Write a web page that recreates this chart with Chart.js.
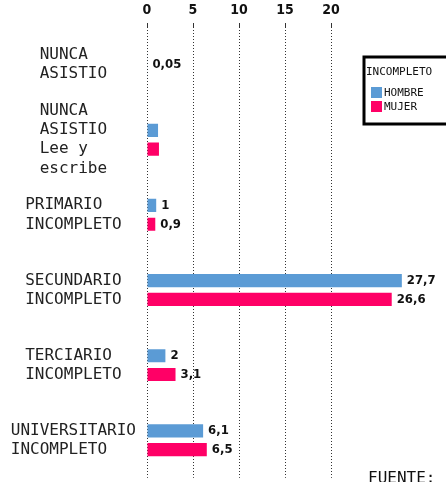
<!DOCTYPE html>
<html>
<head>
<meta charset="utf-8">
<script src="https://cdn.jsdelivr.net/npm/chart.js@4/dist/chart.umd.min.js"></script>
<style>
  html, body { margin: 0; padding: 0; background: #fff; overflow: hidden; }
  #wrap { width: 446px; height: 482px; overflow: hidden; }
  canvas { display: block; }
</style>
</head>
<body>
<div id="wrap"><canvas id="c" width="446" height="500"></canvas></div>
<script>
const categories = [
  ["NUNCA", "ASISTIO"],
  ["NUNCA", "ASISTIO", "Lee y", "escribe"],
  ["PRIMARIO", "INCOMPLETO"],
  ["SECUNDARIO", "INCOMPLETO"],
  ["TERCIARIO", "INCOMPLETO"],
  ["UNIVERSITARIO", "INCOMPLETO"]
];
const hombre = [0.05, 1.2, 1, 27.7, 2, 6.1];
const mujer  = [null, 1.3, 0.9, 26.6, 3.1, 6.5];
const hombreLabels = ["0,05", null, "1", "27,7", "2", "6,1"];
const mujerLabels  = [null, null, "0,9", "26,6", "3,1", "6,5"];
const tickValues = [0, 5, 10, 15, 20];
const legendTitle = "INCOMPLETO";
const sourceText = "FUENTE:";

const MONO = "'DejaVu Sans Mono', 'Liberation Mono', monospace";
const NARROW = "'DejaVu Sans Condensed', 'Liberation Sans Narrow', 'Roboto Condensed', sans-serif";

const valueLabels = {
  id: 'valueLabels',
  afterDatasetsDraw(chart) {
    const ctx = chart.ctx;
    const lists = [hombreLabels, mujerLabels];
    ctx.save();
    ctx.font = "bold 13px " + NARROW;
    ctx.fillStyle = '#111';
    ctx.textBaseline = 'middle';
    ctx.textAlign = 'left';
    chart.data.datasets.forEach((ds, di) => {
      const meta = chart.getDatasetMeta(di);
      meta.data.forEach((el, i) => {
        const t = lists[di][i];
        if (t == null || ds.data[i] == null) return;
        ctx.fillText(t, el.x + 5, el.y);
      });
    });
    ctx.restore();
  }
};

const boxLegend = {
  id: 'boxLegend',
  afterDraw(chart) {
    const ctx = chart.ctx;
    ctx.save();
    const x = 364, y = 57, w = 86, h = 67;
    ctx.fillStyle = '#fff';
    ctx.fillRect(x, y, w, h);
    ctx.lineWidth = 3;
    ctx.strokeStyle = '#000';
    ctx.strokeRect(x, y, w, h);
    ctx.fillStyle = '#111';
    ctx.font = "11px " + MONO;
    ctx.textBaseline = 'middle';
    ctx.textAlign = 'left';
    ctx.fillText(legendTitle, x + 2, y + 15);
    chart.data.datasets.forEach((ds, i) => {
      const yy = y + 36 + i * 14;
      ctx.fillStyle = ds.backgroundColor;
      ctx.fillRect(x + 7, yy - 6, 11, 11);
      ctx.fillStyle = '#111';
      ctx.fillText(ds.label, x + 20, yy);
    });
    ctx.font = "16px " + MONO;
    ctx.textBaseline = 'top';
    ctx.fillText(sourceText, 368, 471);
    ctx.restore();
  }
};

new Chart(document.getElementById('c'), {
  type: 'bar',
  data: {
    labels: categories,
    datasets: [
      { label: 'HOMBRE', data: hombre, backgroundColor: '#5B9BD5' },
      { label: 'MUJER', data: mujer, backgroundColor: '#FF0066' }
    ]
  },
  options: {
    indexAxis: 'y',
    responsive: false,
    animation: false,
    skipNull: true,
    categoryPercentage: 0.5,
    barPercentage: 0.7,
    layout: { padding: 0 },
    plugins: {
      legend: { display: false },
      tooltip: { enabled: false }
    },
    scales: {
      x: {
        position: 'top',
        min: 0,
        max: 32.5,
        afterBuildTicks(scale) { scale.ticks = tickValues.map(v => ({ value: v })); },
        afterFit(scale) { scale.height = 27; },
        grid: { color: '#333', lineWidth: 1, tickLength: 4 },
        border: { display: false, dash: [1, 2] },
        ticks: {
          padding: 4,
          color: '#111',
          font: { family: NARROW, size: 14, weight: 'bold' }
        }
      },
      y: {
        grid: { display: false },
        border: { display: false },
        afterFit(scale) { scale.width = 147; },
        ticks: {
          autoSkip: false,
          crossAlign: 'center',
          color: '#222',
          padding: 3,
          font: { family: MONO, size: 16, lineHeight: 1.2 },
          callback(value, index) {
            const lines = categories[index];
            const n = Math.max(...lines.map(s => s.length));
            return lines.map(s => s.padEnd(n, ' '));
          }
        }
      }
    }
  },
  plugins: [valueLabels, boxLegend]
});
</script>
</body>
</html>
